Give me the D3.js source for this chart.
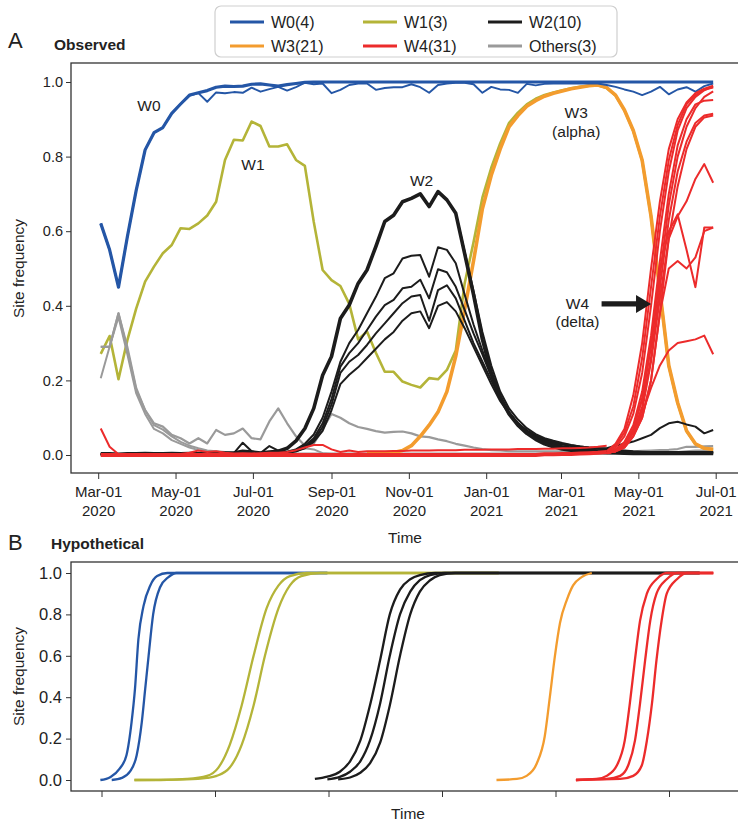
<!DOCTYPE html>
<html>
<head>
<meta charset="utf-8">
<script src="https://cdn.jsdelivr.net/npm/d3@7"></script>
<style>
body { margin: 0; background: #fff; }
text { font-family: "Liberation Sans", Arial, sans-serif; fill: #222; }
</style>
</head>
<body>
<div id="chart"></div>
<script>
// ---------- data: panel A (weekly site frequencies) ----------
var weeks = ["2020-03-03","2020-03-10","2020-03-17","2020-03-24","2020-03-31",
  "2020-04-07","2020-04-14","2020-04-21","2020-04-28",
  "2020-05-05","2020-05-12","2020-05-19","2020-05-26",
  "2020-06-02","2020-06-09","2020-06-16","2020-06-23","2020-06-30",
  "2020-07-07","2020-07-14","2020-07-21","2020-07-28",
  "2020-08-04","2020-08-11","2020-08-18","2020-08-25",
  "2020-09-01","2020-09-08","2020-09-15","2020-09-22","2020-09-29",
  "2020-10-06","2020-10-13","2020-10-20","2020-10-27",
  "2020-11-03","2020-11-10","2020-11-17","2020-11-24",
  "2020-12-01","2020-12-08","2020-12-15","2020-12-22","2020-12-29",
  "2021-01-05","2021-01-12","2021-01-19","2021-01-26",
  "2021-02-02","2021-02-09","2021-02-16","2021-02-23",
  "2021-03-02","2021-03-09","2021-03-16","2021-03-23","2021-03-30",
  "2021-04-06","2021-04-13","2021-04-20","2021-04-27",
  "2021-05-04","2021-05-11","2021-05-18","2021-05-25",
  "2021-06-01","2021-06-08","2021-06-15","2021-06-22","2021-06-29"];

var monthTicks = ["2020-03-01","2020-05-01","2020-07-01","2020-09-01","2020-11-01",
  "2021-01-01","2021-03-01","2021-05-01","2021-07-01"];

var w0Main = [0.621,0.55,0.45,0.585,0.71,0.818,0.864,0.878,0.916,0.941,
  0.965,0.971,0.977,0.986,0.989,0.988,0.989,0.994,0.995,0.992,
  0.989,0.993,0.996,0.999,1,1,1,1,1,1,
  1,1,1,1,1,1,1,1,1,1, 1,1,1,1,1,1,1,1,1,1,
  1,1,1,1,1,1,1,1,1,1, 1,1,1,1,1,1,1,1,1,1];

var w0Noisy = [0.621,0.55,0.45,0.585,0.71,0.818,0.864,0.878,0.916,0.941,
  0.963,0.97,0.947,0.972,0.97,0.973,0.971,0.985,0.974,0.981,
  0.987,0.977,0.986,0.998,0.994,0.996,0.97,0.979,0.992,0.996,
  0.996,0.979,0.984,0.986,0.986,0.994,0.986,0.971,0.992,0.996,
  0.998,0.998,0.994,0.971,0.987,0.98,0.979,0.971,0.995,0.991,
  0.995,0.996,0.996,0.996,0.996,0.996,0.996,0.992,0.987,0.98,
  0.974,0.965,0.974,0.987,0.967,0.98,0.986,0.974,0.989,0.996];

var w1 = [0.271,0.319,0.203,0.308,0.393,0.465,0.505,0.541,0.563,0.608,
  0.606,0.621,0.642,0.679,0.791,0.845,0.843,0.894,0.882,0.827,
  0.827,0.833,0.791,0.775,0.625,0.496,0.469,0.453,0.405,0.31,
  0.331,0.274,0.223,0.223,0.197,0.188,0.181,0.206,0.203,0.228,
  0.28,0.46,0.57,0.69,0.77,0.835,0.89,0.918,0.94,0.955,
  0.965,0.972,0.978,0.983,0.987,0.99,0.991,0.984,0.964,0.924,
  0.869,0.789,0.639,0.439,0.239,0.139,0.064,0.029,0.017,0.014];

// W2: a tight bundle of sites plus four lower sites and one late riser
var w2Bundle = [0.003,0.003,0.002,0.003,0.003,0.004,0.003,0.003,0.004,0.003,
  0.004,0.003,0.004,0.004,0.005,0.005,0.01,0.008,0.005,0.008,
  0.01,0.018,0.038,0.071,0.125,0.214,0.264,0.366,0.402,0.46,
  0.496,0.559,0.626,0.643,0.679,0.688,0.7,0.666,0.706,0.684,
  0.648,0.54,0.43,0.31,0.22,0.155,0.11,0.08,0.058,0.042,
  0.03,0.022,0.016,0.013,0.011,0.009,0.008,0.007,0.006,0.005,
  0.004,0.004,0.004,0.004,0.004,0.004,0.004,0.004,0.004,0.004];

var w2A = [0.002,0.002,0.002,0.002,0.002,0.002,0.002,0.002,0.002,0.002,
  0.002,0.002,0.002,0.002,0.002,0.002,0.002,0.002,0.002,0.002,
  0.004,0.008,0.015,0.03,0.055,0.1,0.17,0.25,0.3,0.335,
  0.38,0.424,0.474,0.487,0.527,0.534,0.536,0.478,0.557,0.55,
  0.514,0.43,0.35,0.28,0.215,0.16,0.115,0.085,0.062,0.046,
  0.035,0.027,0.021,0.017,0.014,0.012,0.01,0.008,0.006,0.005,
  0.004,0.004,0.004,0.004,0.004,0.004,0.004,0.004,0.004,0.004];

var w2B = [0.002,0.002,0.002,0.002,0.002,0.002,0.002,0.002,0.002,0.002,
  0.002,0.002,0.002,0.002,0.002,0.002,0.002,0.002,0.002,0.002,
  0.003,0.006,0.012,0.025,0.045,0.085,0.15,0.237,0.273,0.3,
  0.335,0.371,0.402,0.416,0.447,0.451,0.47,0.42,0.498,0.49,
  0.451,0.389,0.326,0.27,0.21,0.155,0.115,0.085,0.063,0.048,
  0.037,0.03,0.024,0.02,0.017,0.015,0.013,0.011,0.01,0.009,
  0.008,0.008,0.008,0.008,0.008,0.008,0.008,0.008,0.008,0.008];

var w2C = [0.002,0.002,0.002,0.002,0.002,0.002,0.002,0.002,0.002,0.002,
  0.002,0.002,0.002,0.002,0.002,0.002,0.002,0.002,0.002,0.002,
  0.003,0.005,0.01,0.02,0.04,0.075,0.135,0.22,0.25,0.268,
  0.295,0.326,0.353,0.38,0.407,0.425,0.429,0.36,0.442,0.455,
  0.42,0.36,0.3,0.25,0.2,0.15,0.112,0.085,0.065,0.05,
  0.04,0.033,0.028,0.024,0.021,0.019,0.017,0.015,0.012,0.01,
  0.008,0.007,0.006,0.006,0.006,0.006,0.006,0.006,0.006,0.006];

var w2D = [0.002,0.002,0.002,0.002,0.002,0.002,0.002,0.002,0.002,0.002,
  0.002,0.004,0.005,0.003,0.004,0.005,0.033,0.01,0.005,0.024,
  0.012,0.008,0.01,0.018,0.035,0.065,0.12,0.19,0.215,0.235,
  0.26,0.285,0.31,0.33,0.36,0.38,0.385,0.34,0.4,0.41,
  0.385,0.34,0.29,0.24,0.19,0.145,0.11,0.085,0.066,0.052,
  0.043,0.036,0.03,0.026,0.023,0.02,0.018,0.016,0.014,0.012,
  0.01,0.009,0.008,0.008,0.008,0.008,0.008,0.008,0.008,0.008];

var w2Late = [0.002,0.002,0.002,0.002,0.002,0.002,0.002,0.002,0.002,0.002,
  0.002,0.002,0.006,0.002,0.002,0.002,0.002,0.002,0.002,0.002,
  0.01,0.018,0.038,0.071,0.125,0.214,0.264,0.366,0.402,0.46,
  0.496,0.559,0.626,0.643,0.679,0.688,0.7,0.666,0.706,0.684,
  0.648,0.545,0.44,0.33,0.24,0.17,0.125,0.095,0.072,0.056,
  0.045,0.038,0.032,0.027,0.023,0.02,0.018,0.018,0.025,0.03,
  0.036,0.045,0.054,0.072,0.085,0.089,0.082,0.076,0.058,0.067];

// W3 (alpha), values from week index 30 onward
var w3Start = 30;
var w3 = [0.003,0.004,0.005,0.007,0.012,0.025,0.05,0.08,0.115,0.17,
  0.265,0.39,0.52,0.66,0.75,0.82,0.88,0.91,0.935,0.95,
  0.962,0.97,0.976,0.982,0.986,0.99,0.992,0.985,0.965,0.925,
  0.87,0.79,0.64,0.44,0.24,0.14,0.065,0.03,0.018,0.015];

// W4 (delta): flat base, an early site, a small bump, then the rise
var w4Base = [0,0,0,0,0,0,0,0,0,0, 0,0,0,0,0,0,0,0,0,0,
  0,0,0,0,0,0,0,0,0,0, 0,0,0,0,0,0,0,0,0,0,
  0,0,0,0,0,0,0,0,0,0, 0.002,0.002,0.003,0.003,0.004,0.005,0.006,0.008];
var w4Early = [0.071,0.022,0.002,0.001,0];
var w4BumpStart = 8;
var w4Bump = [0.002,0.003,0.006,0.012,0.008,0.01,0.006,0.004,0.005,0.004,
  0.005,0.006,0.006,0.008,0.013,0.02,0.027,0.027,0.015,0.008,
  0.012,0.008,0.01,0.01,0.01,0.011,0.011,0.012,0.012,0.012,
  0.013,0.013,0.013,0.014,0.014,0.014,0.015,0.015,0.015,0.016,
  0.016,0.016,0.017,0.017,0.018,0.018,0.019,0.02,0.022,0.025];
var w4RiseStart = 57;
var w4Rise = [
  [0.01,0.03,0.07,0.16,0.3,0.5,0.68,0.82,0.9,0.945,0.97,0.982,0.99],
  [0.008,0.025,0.06,0.13,0.26,0.45,0.64,0.79,0.885,0.94,0.965,0.98,0.985],
  [0.005,0.02,0.05,0.11,0.22,0.4,0.6,0.76,0.87,0.93,0.96,0.978,0.988],
  [0.004,0.012,0.03,0.07,0.15,0.29,0.48,0.67,0.8,0.88,0.93,0.96,0.975],
  [0.005,0.015,0.035,0.08,0.17,0.32,0.52,0.7,0.83,0.9,0.94,0.95,0.952],
  [0.005,0.01,0.025,0.06,0.13,0.26,0.45,0.63,0.76,0.84,0.89,0.91,0.915],
  [0.005,0.01,0.02,0.05,0.1,0.2,0.38,0.58,0.72,0.82,0.88,0.905,0.91],
  [0.005,0.01,0.03,0.06,0.12,0.25,0.42,0.58,0.64,0.68,0.74,0.78,0.73],
  [0.005,0.01,0.03,0.07,0.15,0.3,0.5,0.6,0.645,0.55,0.45,0.61,0.61],
  [0.005,0.01,0.02,0.05,0.1,0.2,0.38,0.5,0.52,0.5,0.53,0.6,0.61],
  [0.005,0.01,0.03,0.06,0.11,0.18,0.24,0.28,0.3,0.305,0.31,0.32,0.27]
];

var othersA = [0.29,0.29,0.38,0.28,0.174,0.12,0.085,0.076,0.054,0.045,
  0.031,0.045,0.031,0.067,0.054,0.058,0.071,0.045,0.042,0.09,
  0.125,0.085,0.05,0.025,0.03,0.07,0.11,0.1,0.085,0.075,
  0.07,0.064,0.06,0.062,0.063,0.058,0.05,0.048,0.042,0.037,
  0.03,0.025,0.02,0.016,0.013,0.012,0.01,0.01,0.01,0.01,
  0.01,0.01,0.01,0.01,0.01,0.01,0.01,0.01,0.01,0.01,
  0.01,0.011,0.012,0.013,0.014,0.016,0.022,0.022,0.023,0.024];
var othersB = [0.206,0.29,0.38,0.29,0.18,0.12,0.08,0.068,0.05,0.035,
  0.025,0.018,0.012,0.01,0.008,0.006,0.005,0.005,0.005,0.006,
  0.008,0.01,0.015,0.018,0.015,0.005,0.003,0.003,0.003,0.003,
  0.003,0.003,0.003,0.003,0.003,0.003,0.003,0.003,0.003,0.003,
  0.003,0.003,0.003,0.003,0.003,0.003,0.003,0.003,0.003,0.003,
  0.003,0.003,0.003,0.003,0.003,0.003,0.003,0.003,0.003,0.003,
  0.003,0.003,0.003,0.003,0.003,0.004,0.005,0.005,0.005,0.005];
var othersC = [0.29,0.29,0.37,0.27,0.165,0.11,0.07,0.058,0.04,0.03,
  0.02,0.013,0.01,0.008,0.006,0.005,0.004,0.004,0.004,0.004,
  0.004,0.004,0.004,0.004,0.004,0.004,0.004,0.004,0.004,0.004,
  0.004,0.004,0.004,0.004,0.004,0.004,0.004,0.004,0.004,0.004,
  0.004,0.004,0.004,0.004,0.004,0.004,0.004,0.004,0.004,0.004,
  0.004,0.004,0.004,0.004,0.004,0.004,0.004,0.004,0.004,0.004,
  0.004,0.004,0.005,0.006,0.007,0.008,0.01,0.012,0.012,0.012];

// ---------- data: panel B (hypothetical sweeps), [time unit, frequency] ----------
var hypoW0 = [
  [[-0.1,0],[0.8,0.015],[1.6,0.055],[2.2,0.12],[2.65,0.28],[2.95,0.44],[3.25,0.68],[3.7,0.84],[4.3,0.94],[4.9,0.985],[5.8,1],[19.9,1]],
  [[0.9,0],[1.8,0.01],[2.5,0.04],[3.1,0.12],[3.55,0.28],[3.85,0.44],[4.15,0.6],[4.55,0.8],[5.15,0.93],[5.9,0.98],[6.6,1],[19.9,1]]
];
var hypoW1 = [
  [[2.9,0],[5.2,0],[7.5,0.005],[9.3,0.02],[10.3,0.06],[11.3,0.17],[12.35,0.36],[13.4,0.6],[14.55,0.83],[15.6,0.94],[16.6,0.985],[18.1,1],[35,1]],
  [[2.9,0],[7.5,0.003],[9.3,0.01],[10.15,0.02],[11.3,0.06],[12.35,0.17],[13.4,0.36],[14.4,0.6],[15.6,0.83],[16.6,0.94],[17.6,0.985],[19.25,1],[35,1]]
];
var hypoW2 = [
  [[18.8,0.005],[19.9,0.016],[21,0.04],[21.9,0.09],[22.8,0.19],[23.65,0.36],[24.55,0.58],[25.4,0.8],[26.3,0.92],[27.2,0.97],[28.05,0.99],[29.4,1],[52.7,1]],
  [[19.9,0.003],[21,0.015],[21.9,0.04],[22.8,0.09],[23.65,0.19],[24.55,0.37],[25.4,0.6],[26.3,0.8],[27.2,0.91],[28.05,0.965],[28.95,0.99],[30.25,1],[52.7,1]],
  [[20.85,0.003],[21.9,0.012],[22.8,0.035],[23.65,0.08],[24.55,0.18],[25.4,0.36],[26.3,0.6],[27.2,0.8],[28.05,0.91],[28.95,0.965],[29.8,0.99],[31.15,1],[52.7,1]]
];
var hypoW3 = [
  [[34.8,0],[36.6,0.005],[37.45,0.02],[38.35,0.08],[39.05,0.21],[39.5,0.4],[39.95,0.6],[40.4,0.76],[41,0.87],[41.55,0.94],[42.3,0.98],[43.2,1]]
];
var hypoW4 = [
  [[41.8,0],[43.6,0.005],[44.5,0.02],[45.4,0.07],[46.1,0.19],[46.55,0.37],[47,0.58],[47.45,0.77],[48.05,0.9],[48.9,0.97],[49.8,1],[53.9,1]],
  [[41.8,0],[44.5,0.005],[45.7,0.02],[46.4,0.07],[47,0.19],[47.45,0.37],[47.9,0.58],[48.35,0.77],[48.9,0.9],[49.8,0.97],[50.7,1],[53.9,1]],
  [[41.8,0],[45.7,0.005],[46.85,0.02],[47.6,0.07],[48.05,0.19],[48.5,0.37],[48.9,0.58],[49.35,0.77],[49.8,0.9],[50.7,0.97],[51.55,1],[53.9,1]]
];
var hypoTicks = [0, 10, 20, 30, 40, 50];

var legendItems = [
  {label: "W0(4)", color: "#2456a6"}, {label: "W1(3)", color: "#b4b438"}, {label: "W2(10)", color: "#1c1c1c"},
  {label: "W3(21)", color: "#f39c2e"}, {label: "W4(31)", color: "#ec2b2b"}, {label: "Others(3)", color: "#9a9a9a"}
];

(function () {
  var C = {w0: "#2456a6", w1: "#b4b438", w2: "#1c1c1c", w3: "#f39c2e", w4: "#ec2b2b", oth: "#9a9a9a"};

  var svg = d3.select("#chart").append("svg")
    .attr("width", 738)
    .attr("height", 823);

  var parse = d3.utcParse("%Y-%m-%d");
  var dates = weeks.map(parse);

  // ================= panel A =================
  var xA = d3.scaleUtc()
    .domain([parse("2020-03-01"), parse("2021-07-01")])
    .range([98.2, 715.7]);
  var yA = d3.scaleLinear().domain([0, 1]).range([455, 82]);

  svg.append("rect")
    .attr("x", 71).attr("y", 63).attr("width", 690).attr("height", 410)
    .attr("fill", "none").attr("stroke", "#333").attr("stroke-width", 1.3);

  var lineA = d3.line()
    .x(function (d) { return xA(d[0]); })
    .y(function (d) { return yA(d[1]); });

  function pts(vals, start) {
    start = start || 0;
    return vals.map(function (v, j) { return [dates[start + j], v]; });
  }

  var gA = svg.append("g");
  function drawA(vals, start, color, width) {
    gA.append("path")
      .attr("d", lineA(pts(vals, start)))
      .attr("fill", "none")
      .attr("stroke", color)
      .attr("stroke-width", width)
      .attr("stroke-linejoin", "round");
  }

  // draw order: olive, grey, orange, black, blue, red
  drawA(w1, 0, C.w1, 2.6);
  drawA(othersC, 0, C.oth, 2);
  drawA(othersB, 0, C.oth, 2);
  drawA(othersA, 0, C.oth, 2.2);
  drawA(w3, w3Start, C.w3, 3.6);
  drawA(w2D, 0, C.w2, 2);
  drawA(w2C, 0, C.w2, 2);
  drawA(w2B, 0, C.w2, 2);
  drawA(w2A, 0, C.w2, 2);
  drawA(w2Late, 0, C.w2, 2);
  drawA(w2Bundle, 0, C.w2, 3.6);
  drawA(w0Noisy, 0, C.w0, 1.9);
  drawA(w0Main, 0, C.w0, 3.2);
  drawA(w4Early, 0, C.w4, 2);
  drawA(w4Bump, w4BumpStart, C.w4, 2);
  w4Rise.forEach(function (r) { drawA(r, w4RiseStart, C.w4, 2); });
  drawA(w4Base, 0, C.w4, 4);

  // axes
  var gyA = svg.append("g").attr("transform", "translate(71,0)")
    .call(d3.axisLeft(yA).tickValues([0, 0.2, 0.4, 0.6, 0.8, 1]).tickFormat(d3.format(".1f")).tickSize(5).tickPadding(3));
  gyA.select(".domain").remove();
  gyA.selectAll("line").attr("stroke", "#333");
  gyA.selectAll("text").style("font-size", "14.5px").attr("fill", "#222");

  var gxA = svg.append("g").attr("transform", "translate(0,473)")
    .call(d3.axisBottom(xA).tickValues(monthTicks.map(parse)).tickSize(6).tickFormat(""));
  gxA.select(".domain").remove();
  gxA.selectAll("line").attr("stroke", "#333");
  gxA.selectAll(".tick text").remove();
  gxA.selectAll(".tick").append("text")
    .attr("text-anchor", "middle")
    .style("font-size", "15px")
    .each(function (d) {
      var t = d3.select(this);
      t.append("tspan").attr("x", 0).attr("y", 24).text(d3.utcFormat("%b-%d")(d));
      t.append("tspan").attr("x", 0).attr("y", 43).text(d3.utcFormat("%Y")(d));
    });

  svg.append("text").attr("x", 405).attr("y", 543).attr("text-anchor", "middle")
    .style("font-size", "15.5px").text("Time");
  svg.append("text").attr("transform", "translate(24,268.5) rotate(-90)").attr("text-anchor", "middle")
    .style("font-size", "15.5px").text("Site frequency");

  svg.append("text").attr("x", 8).attr("y", 48).style("font-size", "22px").text("A");
  svg.append("text").attr("x", 54).attr("y", 50).style("font-size", "15.5px").style("font-weight", "bold").text("Observed");

  // wave labels
  var labelsA = [
    {t: "W0", d: "2020-04-10", v: 0.922},
    {t: "W1", d: "2020-07-01", v: 0.764},
    {t: "W2", d: "2020-11-11", v: 0.721},
    {t: "W3", d: "2021-03-13", v: 0.903},
    {t: "(alpha)", d: "2021-03-13", v: 0.853},
    {t: "W4", d: "2021-03-14", v: 0.391},
    {t: "(delta)", d: "2021-03-14", v: 0.343}
  ];
  svg.selectAll(".wlab").data(labelsA).enter().append("text")
    .attr("class", "wlab")
    .attr("x", function (d) { return xA(parse(d.d)); })
    .attr("y", function (d) { return yA(d.v); })
    .attr("text-anchor", "middle")
    .style("font-size", "15.5px")
    .text(function (d) { return d.t; });

  // arrow toward the W4 rise
  var ax0 = xA(parse("2021-04-02")), ax1 = xA(parse("2021-05-11")), ay = yA(0.405);
  svg.append("path")
    .attr("d", "M" + ax0 + "," + (ay - 2.6) + "H" + (ax1 - 15) + "V" + (ay - 9) + "L" + ax1 + "," + ay +
      "L" + (ax1 - 15) + "," + (ay + 9) + "V" + (ay + 2.6) + "H" + ax0 + "Z")
    .attr("fill", "#1c1c1c");

  // legend
  var lg = svg.append("g");
  lg.append("rect").attr("x", 215).attr("y", 6).attr("width", 402).attr("height", 51).attr("rx", 6)
    .attr("fill", "#fff").attr("stroke", "#cfcfcf").attr("stroke-width", 1.2);
  var colX = [230, 363, 488], rowY = [22, 46];
  legendItems.forEach(function (it, i) {
    var cx = colX[i % 3], cy = rowY[Math.floor(i / 3)];
    lg.append("line").attr("x1", cx).attr("x2", cx + 34).attr("y1", cy).attr("y2", cy)
      .attr("stroke", it.color).attr("stroke-width", 3);
    lg.append("text").attr("x", cx + 41).attr("y", cy + 6).style("font-size", "16px").text(it.label);
  });

  // ================= panel B =================
  var xB = d3.scaleLinear().domain([0, 50]).range([101.5, 669]);
  var yB = d3.scaleLinear().domain([0, 1]).range([780, 573]);

  svg.append("rect")
    .attr("x", 71).attr("y", 562).attr("width", 690).attr("height", 229)
    .attr("fill", "none").attr("stroke", "#333").attr("stroke-width", 1.3);

  var lineB = d3.line()
    .x(function (d) { return xB(d[0]); })
    .y(function (d) { return yB(d[1]); })
    .curve(d3.curveMonotoneX);

  var gB = svg.append("g");
  [[hypoW0, C.w0], [hypoW1, C.w1], [hypoW2, C.w2], [hypoW3, C.w3], [hypoW4, C.w4]].forEach(function (grp) {
    grp[0].forEach(function (curve) {
      gB.append("path")
        .attr("d", lineB(curve))
        .attr("fill", "none")
        .attr("stroke", grp[1])
        .attr("stroke-width", 2.3);
    });
  });

  var gyB = svg.append("g").attr("transform", "translate(71,0)")
    .call(d3.axisLeft(yB).tickValues([0, 0.2, 0.4, 0.6, 0.8, 1]).tickFormat(d3.format(".1f")).tickSize(5).tickPadding(4));
  gyB.select(".domain").remove();
  gyB.selectAll("line").attr("stroke", "#333");
  gyB.selectAll("text").style("font-size", "16.5px").attr("fill", "#222");

  var gxB = svg.append("g").attr("transform", "translate(0,791)")
    .call(d3.axisBottom(xB).tickValues(hypoTicks).tickSize(6).tickFormat(""));
  gxB.select(".domain").remove();
  gxB.selectAll("line").attr("stroke", "#333");

  svg.append("text").attr("x", 408).attr("y", 819).attr("text-anchor", "middle")
    .style("font-size", "15.5px").text("Time");
  svg.append("text").attr("transform", "translate(24,676.5) rotate(-90)").attr("text-anchor", "middle")
    .style("font-size", "15.5px").text("Site frequency");

  svg.append("text").attr("x", 8).attr("y", 550).style("font-size", "22px").text("B");
  svg.append("text").attr("x", 51).attr("y", 549).style("font-size", "15.5px").style("font-weight", "bold").text("Hypothetical");
})();
</script>
</body>
</html>
